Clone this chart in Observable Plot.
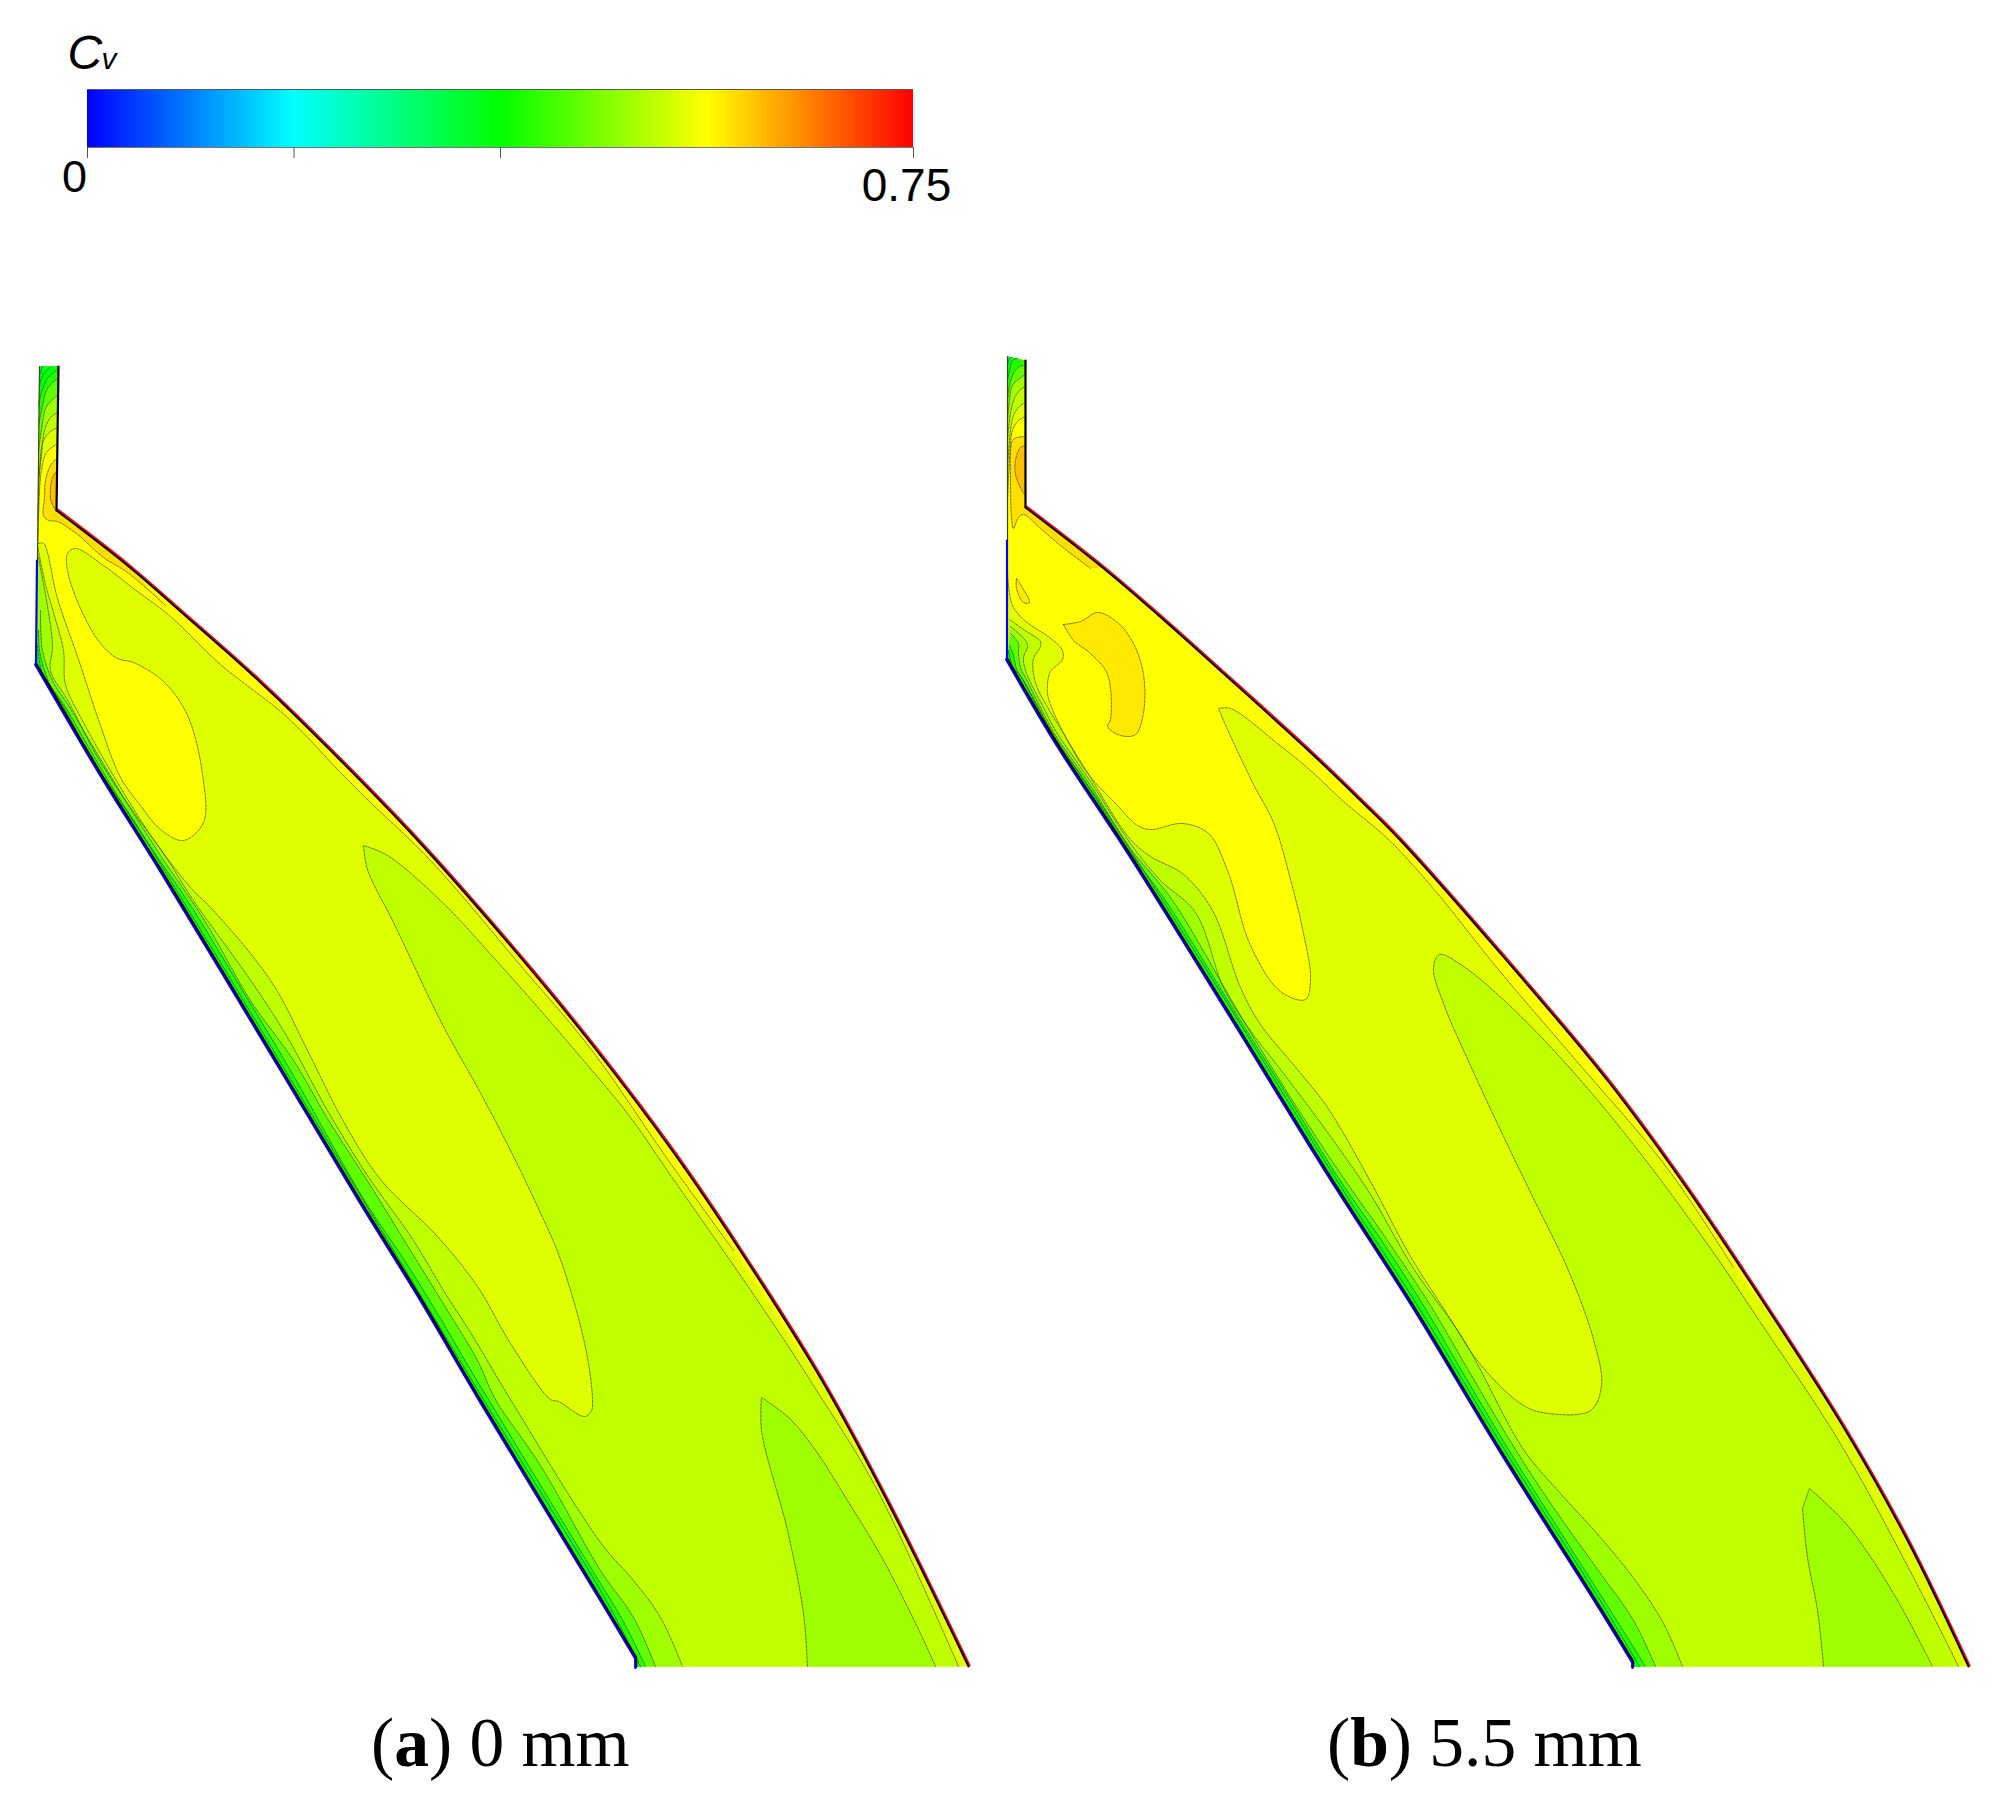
<!DOCTYPE html>
<html>
<head>
<meta charset="utf-8">
<script src="https://cdn.jsdelivr.net/npm/d3@7"></script>
<script src="https://cdn.jsdelivr.net/npm/@observablehq/plot@0.6"></script>
<style>
html,body{margin:0;padding:0;background:#fff;overflow:hidden}
#page{width:2001px;height:1816px;position:relative}
svg{display:block}
.cap{position:absolute;top:28px;font:69.5px/69.5px "Liberation Serif",serif;color:#000;white-space:pre}
.cap b{font-weight:bold}
</style>
</head>
<body>
<div id="page"></div>
<script>
// Colour map of the Cv bar
const cvStops = [0, 0.1875, 0.375, 0.5625, 0.75];
const cvColors = ["#0000ff", "#00ffff", "#00ff00", "#ffff00", "#ff0000"];
const cvTicks = [0, 0.1875, 0.375, 0.75];
const cvLevelStep = 0.75 / 32;
const colorOptions = {type: "linear", domain: cvStops, range: cvColors};

// ---- Panel (a) 0 mm : outline, picture coordinates
const shroudA = [[56,510],[127,565],[180,611],[260,682],[340,760],[420,843],[520,957],[593,1046],[673,1152],[737,1246],[822,1381],[890,1507],[968,1666]];
const hubA = [[36,663],[103,777],[160,868],[267,1045],[360,1200],[420,1297],[480,1399],[600,1597],[636,1657],[636,1657],[636,1666]];
const neckRightA = [[58,366],[56,510]];
const neckLeftUpperA = [[39,366],[37,560]];
const neckLeftLowerA = [[37,560],[36,663]];

const dA = [[38,543],[43,543],[57,598],[77,656],[100,725],[120,777],[140,805],[160,829],[183,840],[203,822],[202,774],[187,715],[163,681],[133,662],[117,658],[100,643],[80,608],[67,570],[67,553],[75,548],[103,565],[133,588],[170,616],[220,664],[287,717],[340,772],[368,800],[430,860],[520,965],[590,1048],[668,1160],[733,1250]];
const dCloseA = [[822,1383],[890,1509],[968,1666]];
const bA = [[37,545],[45,584],[53,612],[63,650],[65,684],[83,722],[120,787],[153,839],[190,887],[210,907],[250,953],[277,991],[310,1056],[343,1121],[380,1179],[437,1236],[477,1286],[510,1343],[550,1399],[558,1401],[584,1416],[591,1410],[592,1399],[585,1347],[560,1259],[537,1206],[507,1144],[477,1087],[443,1026],[393,922],[367,869],[363,845],[363,845],[387,855],[443,903],[493,957],[527,995],[583,1060],[627,1113],[673,1179],[753,1294],[813,1385],[877,1490],[958,1666]];
const lobeA = [[807,1666],[803,1613],[787,1530],[761,1430],[761,1397],[761,1397],[788,1417],[813,1447],[847,1500],[883,1560],[920,1633],[935,1666]];
const c4A = [[38,557],[48,612],[52,646],[50,670],[68,701],[95,753],[127,803],[163,853],[193,900],[253,984],[287,1037],[327,1110],[367,1175],[413,1240],[443,1290],[470,1332],[510,1399],[600,1542],[633,1580],[660,1617],[682,1666]];
const c5A = [[40,610],[42,650],[52,680],[68,705],[86,735],[122,795],[160,855],[204,920],[250,1000],[293,1060],[327,1118],[373,1190],[413,1255],[447,1310],[477,1360],[495,1399],[540,1465],[600,1570],[633,1617],[655,1666]];
const c6A = [[38,630],[39,650],[44,670],[50,685],[64,705],[90,750],[126,810],[158,858],[192,908],[245,995],[290,1070],[321,1125],[364,1200],[406,1263],[440,1318],[468,1366],[488,1399],[528,1465],[592,1570],[625,1625],[645,1666]];
const c7A = [[37,645],[41,670],[53,690],[64,708],[92,760],[130,815],[164,870],[240,995],[316,1122],[401,1263],[483,1399],[604,1597],[640,1666]];
const goldA = [[57,457],[50,465],[45,480],[44,497],[43,515],[48,520],[57,521],[77,534],[103,557],[127,572],[165,605]];
const goldCloseA = [[127,565],[56,510]];
const orangeA = [[57,470],[52,477],[50,498],[55,510]];
const neck23A = [[37,545],[38,520],[39,490],[41,470],[46,452],[57,443]];
const neck22A = [[37,520],[38,500],[39,470],[43,440],[50,431],[57,427]];
const neck21A = [[38,480],[41,455],[44,430],[50,417],[57,412]];
const neck19A = [[38,450],[41,430],[45,408],[51,400],[57,395]];
const neck17A = [[38,425],[41,410],[46,390],[52,382],[58,378]];
const neck16A = [[38,405],[41,392],[47,378],[53,372],[58,368]];
const neck15A = [[39,385],[42,375],[48,368],[50,366]];
const neck14A = [[39,375],[42,366]];
const neckTopA = [[58,366],[39,366]];

// ---- Panel (b) 5.5 mm
const shroudB = [[1025,507],[1102,567],[1157,614],[1223,673],[1310,752],[1362,802],[1400,840],[1500,953],[1607,1080],[1683,1183],[1767,1308],[1845,1430],[1907,1540],[1968,1666]];
const hubB = [[1007,658],[1057,743],[1130,854],[1230,1014],[1330,1176],[1413,1305],[1500,1449],[1600,1607],[1633,1661],[1633,1661],[1633,1666]];
const neckRightB = [[1025,360],[1025,507]];
const neckLeftUpperB = [[1007,356],[1007,540]];
const neckLeftLowerB = [[1007,540],[1007,658]];

const dB = [[1007,570],[1008,585],[1012,605],[1023,619],[1053,640],[1062,650],[1062,659],[1050,671],[1047,684],[1048,698],[1083,767],[1117,805],[1137,825],[1150,829],[1182,823],[1208,833],[1227,870],[1250,945],[1280,991],[1305,999],[1310,978],[1303,933],[1290,879],[1273,822],[1253,784],[1227,729],[1218,708],[1218,708],[1230,708],[1277,743],[1310,770],[1342,800],[1390,841],[1437,893],[1497,968],[1573,1057],[1667,1168],[1733,1267]];
const dCloseB = [[1767,1311],[1845,1432],[1907,1542],[1968,1666]];
const bB = [[1009,619],[1023,629],[1040,641],[1040,646],[1033,658],[1033,674],[1038,690],[1046,705],[1060,728],[1090,777],[1130,839],[1150,856],[1183,874],[1212,910],[1240,987],[1260,1024],[1297,1069],[1327,1107],[1370,1181],[1410,1256],[1447,1314],[1480,1364],[1523,1405],[1548,1413],[1590,1410],[1601,1385],[1593,1339],[1567,1268],[1533,1198],[1503,1136],[1470,1065],[1443,1003],[1433,968],[1439,954],[1463,966],[1507,1003],[1567,1065],[1633,1144],[1710,1248],[1760,1322],[1838,1440],[1912,1575],[1958,1666]];
const lobeB = [[1823,1666],[1817,1610],[1807,1557],[1802,1508],[1802,1508],[1809,1488],[1809,1488],[1847,1525],[1893,1593],[1932,1666]];
const c4B = [[1010,626],[1025,640],[1027,646],[1023,657],[1025,670],[1031,684],[1042,705],[1055,730],[1090,781],[1130,843],[1160,880],[1195,912],[1223,987],[1247,1026],[1290,1082],[1330,1136],[1370,1194],[1413,1268],[1463,1339],[1523,1449],[1560,1493],[1600,1537],[1637,1583],[1663,1623],[1682,1666]];
const c5B = [[1010,633],[1018,643],[1018,653],[1020,667],[1026,679],[1039,705],[1054,733],[1090,785],[1130,848],[1172,900],[1240,1015],[1292,1100],[1342,1176],[1387,1240],[1430,1305],[1468,1370],[1515,1449],[1555,1510],[1600,1573],[1633,1620],[1655,1666]];
const c6B = [[1009,645],[1013,655],[1016,668],[1023,680],[1037,705],[1053,735],[1087,785],[1130,852],[1165,900],[1236,1014],[1290,1100],[1337,1176],[1381,1240],[1423,1305],[1461,1370],[1508,1449],[1559,1530],[1608,1607],[1645,1666]];
const c7B = [[1008,650],[1012,665],[1023,680],[1036,705],[1060,745],[1098,800],[1133,854],[1234,1014],[1334,1176],[1417,1305],[1504,1449],[1604,1607],[1639,1666]];
const goldB = [[1025,436],[1017,437],[1012,440],[1010,478],[1013,528],[1018,517],[1023,514],[1040,528],[1060,545],[1090,568]];
const goldCloseB = [[1102,567],[1025,507]];
const orangeB = [[1025,445],[1020,447],[1015,460],[1015,474],[1022,491],[1025,495]];
const blobB = [[1063,624],[1080,621],[1097,612],[1117,622],[1133,643],[1143,674],[1143,712],[1135,734],[1120,735],[1107,726],[1110,719],[1107,674],[1090,653],[1073,640],[1063,624]];
const tinyB = [[1016,578],[1029,602],[1023,602],[1016,588],[1016,578]];
const neck23B = [[1007,500],[1009,460],[1012,430],[1018,420],[1025,416]];
const neck22B = [[1007,470],[1009,440],[1013,415],[1019,406],[1025,402]];
const neck21B = [[1007,440],[1009,420],[1013,400],[1019,390],[1025,386]];
const neck19B = [[1007,420],[1009,400],[1012,385],[1019,378],[1025,374]];
const neck17B = [[1007,400],[1009,385],[1013,373],[1019,366],[1025,365]];
const neck15B = [[1007,380],[1009,370],[1012,360],[1018,358]];
const neck13B = [[1007,365],[1009,358],[1011,357]];
const neckTopB = [[1025,360],[1007,356]];

// Text
const captionA = ["(", "a", ") 0 mm"];
const captionB = ["(", "b", ") 5.5 mm"];

// a repeated point keeps a corner sharp in the smooth curve
const sharp = a => a.length ? [a[0], ...a, a[a.length - 1]] : [];

// ---- Painter's order: [Cv level index, contour, closing points]
const revA = hubA.slice().reverse();
const revB = hubB.slice().reverse();
const regions = [
  [23, dA, [...sharp(dCloseA), ...sharp(revA), [36,600]]],
  [22, bA, [...sharp(revA), [36,600]]],
  [21, lobeA, []],
  [21, c4A, revA],
  [19, c5A, revA],
  [17, c6A, revA],
  [15, c7A, revA],
  [25, goldA, goldCloseA],
  [26, orangeA, []],
  [23, neck23A, neckTopA],
  [22, neck22A, neckTopA],
  [21, neck21A, neckTopA],
  [19, neck19A, neckTopA],
  [17, neck17A, neckTopA],
  [16, neck16A, neckTopA],
  [15, neck15A, [[39,366]]],
  [14, neck14A, [[39,366]]],

  [23, dB, [...sharp(dCloseB), ...sharp(revB)]],
  [22, bB, revB],
  [21, lobeB, []],
  [21, c4B, revB],
  [19, c5B, revB],
  [17, c6B, revB],
  [15, c7B, revB],
  [25, goldB, goldCloseB],
  [26, orangeB, []],
  [24.7, blobB, []],
  [24.7, tinyB, []],
  [23, neck23B, neckTopB],
  [22, neck22B, neckTopB],
  [21, neck21B, neckTopB],
  [19, neck19B, neckTopB],
  [17, neck17B, neckTopB],
  [15, neck15B, [[1007,356]]],
  [13, neck13B, [[1007,356]]]
];

const px = d => d[0], py = d => d[1];
const smooth = "catmull-rom";
const polygon = (pts, level) => Plot.line(pts, {x: px, y: py, fill: () => level * cvLevelStep, stroke: "none", curve: smooth});
const contour = pts => Plot.line(pts, {x: px, y: py, stroke: "#3c3c14", strokeWidth: 0.9, strokeOpacity: 0.75, strokeDasharray: "2.5 1.3", curve: smooth});
const edge = (pts, stroke, strokeWidth, dx = 0, dy = 0) => Plot.line(pts, {x: px, y: py, stroke, strokeWidth, dx, dy, strokeLinejoin: "miter", curve: smooth});

const outlineA = [[39,366],[39,366],[58,366],[58,366],...sharp(shroudA),...sharp(revA)];
const outlineB = [[1007,356],[1007,356],[1025,360],[1025,360],...sharp(shroudB),...sharp(revB)];

const ductMarks = [
  polygon(outlineA, 24),
  polygon(outlineB, 24),
  ...regions.map(([lvl, c, close]) => polygon([...sharp(c), ...sharp(close)], lvl)),
  ...regions.map(([, c]) => contour(c))
];
for (const [shroud, hub, right, upper, lower] of [
  [shroudA, hubA, neckRightA, neckLeftUpperA, neckLeftLowerA],
  [shroudB, hubB, neckRightB, neckLeftUpperB, neckLeftLowerB]
]) {
  ductMarks.push(
    edge(shroud, "#ff0000", 2.2, 1, -1),
    edge(shroud, "#000000", 1.9),
    edge(hub, "#0000ff", 2.8, -1, 1),
    edge(hub, "#000000", 1.6),
    edge(right, "#000000", 2.2),
    edge(upper, "#3d4a20", 1.2),
    edge(lower, "#0000ff", 2.2, -0.5, 0)
  );
}

// ---- Colour bar
const barSteps = d3.range(0, 0.75, 0.75 / 826);
const bar = Plot.plot({
  width: 1001, height: 215,
  marginLeft: 87, marginRight: 88, marginTop: 0, marginBottom: 0,
  style: {background: "transparent", overflow: "visible"},
  x: {domain: [0, 0.75], axis: null},
  y: {domain: [0, 215], range: [0, 215], axis: null},
  color: colorOptions,
  marks: [
    Plot.rect(barSteps, {x1: d => d, x2: d => d + 0.75 / 826, y1: 89, y2: 147, fill: d => d, shapeRendering: "crispEdges"}),
    Plot.ruleY([89], {x1: 0, x2: 0.75, stroke: "#555", strokeWidth: 1}),
    Plot.ruleY([147], {x1: 0, x2: 0.75, stroke: "#777", strokeWidth: 1}),
    Plot.ruleX(cvTicks, {y1: 147, y2: 158, stroke: "#555", strokeWidth: 1}),
    Plot.text(["0"], {x: 0, y: 191, dx: -13, fontSize: 45, lineAnchor: "bottom", fontFamily: "Liberation Sans", fill: "#000"}),
    Plot.text(["0.75"], {x: 0.75, y: 200, dx: -7, fontSize: 46, lineAnchor: "bottom", fontFamily: "Liberation Sans", fill: "#000"}),
    Plot.text(["C"], {x: 0, y: 68, dx: -20, fontSize: 48, textAnchor: "start", lineAnchor: "bottom", fontStyle: "italic", fontFamily: "Liberation Sans", fill: "#000"}),
    Plot.text(["v"], {x: 0, y: 68, dx: 14, fontSize: 30, textAnchor: "start", lineAnchor: "bottom", fontStyle: "italic", fontFamily: "Liberation Sans", fill: "#000"})
  ]
});

const duct = Plot.plot({
  width: 2001, height: 1465,
  margin: 0,
  style: {background: "transparent", overflow: "visible"},
  x: {domain: [0, 2001], range: [0, 2001], axis: null},
  y: {domain: [215, 1680], range: [0, 1465], axis: null},
  color: colorOptions,
  marks: ductMarks
});

const page = document.getElementById("page");
page.appendChild(bar);
page.appendChild(duct);
const capBox = document.createElement("div");
capBox.style.cssText = "position:relative;height:136px;width:2001px";
for (const [parts, left] of [[captionA, 371], [captionB, 1327]]) {
  const c = document.createElement("div");
  c.className = "cap";
  c.style.left = left + "px";
  c.append(parts[0]);
  const b = document.createElement("b");
  b.textContent = parts[1];
  c.append(b, parts[2]);
  capBox.appendChild(c);
}
page.appendChild(capBox);
</script>
</body>
</html>
